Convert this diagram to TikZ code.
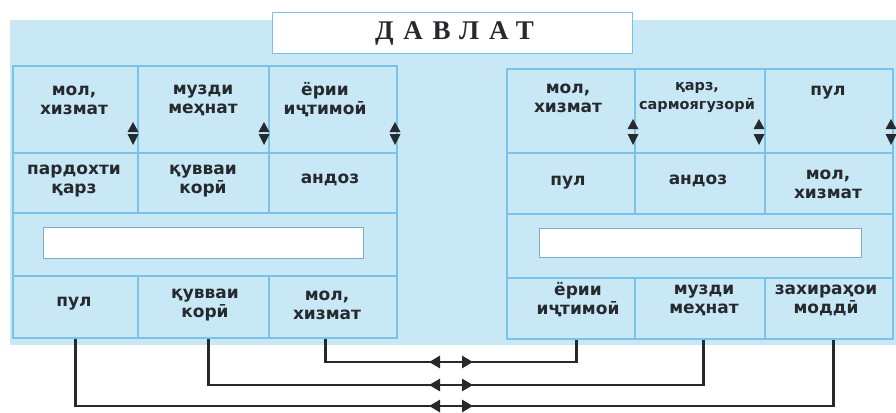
\documentclass[tikz,border=0pt]{standalone}
\usepackage{fontspec}
\setmainfont{DejaVu Sans}
\newfontfamily\cellfont{DejaVu Sans Bold}
\newfontfamily\titlefont[LetterSpace=36]{Liberation Serif Bold}
\usetikzlibrary{arrows.meta}
\definecolor{bgblue}{HTML}{C8E8F6}
\definecolor{cellline}{HTML}{7AC2EA}
\definecolor{ink}{HTML}{262A2E}
\begin{document}
\begin{tikzpicture}[x=1pt,y=-1pt,
  cell/.style={draw=cellline, line width=1.5pt, fill=bgblue, inner sep=0pt, anchor=north west},
  whitebox/.style={draw=cellline!70!gray, line width=0.6pt, fill=white, inner sep=0pt, anchor=north west},
  txt/.style={font=\cellfont\fontsize{17}{19}\selectfont, text=ink, align=center, inner sep=0pt},
  conn/.style={draw=ink, line width=2.8pt},
  tip/.style={draw=ink, line width=2.8pt, -{Triangle[length=11pt,width=12pt]}},
  updown/.style={fill=ink},
]
\useasboundingbox (0,0) rectangle (896,412);
% background
\fill[bgblue] (10,20) rectangle (896,345);
% title
\node[whitebox, draw=cellline, line width=1pt, minimum width=360pt, minimum height=41pt] (title) at (272,12) {};
\node[font=\titlefont\fontsize{27}{29}\selectfont, text=ink] (titletxt) at ([xshift=2pt]title.center) {ДАВЛАТ};

% ---------------- left panel ----------------
\node[cell, minimum width=125pt, minimum height=87pt] (a1) at (12,65) {};
\node[cell, minimum width=131pt, minimum height=87pt] (a2) at (137,65) {};
\node[cell, minimum width=128pt, minimum height=87pt] (a3) at (268,65) {};
\node[cell, minimum width=125pt, minimum height=60pt] (b1) at (12,152) {};
\node[cell, minimum width=131pt, minimum height=60pt] (b2) at (137,152) {};
\node[cell, minimum width=128pt, minimum height=60pt] (b3) at (268,152) {};
\node[cell, minimum width=384pt, minimum height=63pt] (c0) at (12,212) {};
\node[whitebox, minimum width=320pt, minimum height=31pt] (cw) at (43,227) {};
\node[cell, minimum width=125pt, minimum height=62pt] (d1) at (12,275) {};
\node[cell, minimum width=131pt, minimum height=62pt] (d2) at (137,275) {};
\node[cell, minimum width=128pt, minimum height=62pt] (d3) at (268,275) {};

\node[txt] (ta1) at (74,100) {мол,\\хизмат};
\node[txt] (ta2) at (203,100) {музди\\меҳнат};
\node[txt] (ta3) at (325,100) {ёрии\\иҷтимоӣ};
\node[txt] (tb1) at (74,181) {пардохти\\қарз};
\node[txt] (tb2) at (203,181) {қувваи\\корӣ};
\node[txt] (tb3) at (330,180) {андоз};
\node[txt] (td1) at (74,304) {пул};
\node[txt] (td2) at (205,305) {қувваи\\корӣ};
\node[txt] (td3) at (327,305) {мол,\\хизмат};

% ---------------- right panel ----------------
\node[cell, minimum width=128pt, minimum height=84pt] (e1) at (506,68) {};
\node[cell, minimum width=130pt, minimum height=84pt] (e2) at (634,68) {};
\node[cell, minimum width=128pt, minimum height=84pt] (e3) at (764,68) {};
\node[cell, minimum width=128pt, minimum height=61pt] (f1) at (506,152) {};
\node[cell, minimum width=130pt, minimum height=61pt] (f2) at (634,152) {};
\node[cell, minimum width=128pt, minimum height=61pt] (f3) at (764,152) {};
\node[cell, minimum width=386pt, minimum height=64pt] (g0) at (506,213) {};
\node[whitebox, minimum width=322pt, minimum height=29pt] (gw) at (539,228) {};
\node[cell, minimum width=128pt, minimum height=61pt] (h1) at (506,277) {};
\node[cell, minimum width=130pt, minimum height=61pt] (h2) at (634,277) {};
\node[cell, minimum width=128pt, minimum height=61pt] (h3) at (764,277) {};

\node[txt] (te1) at (568,98) {мол,\\хизмат};
\node[txt, font=\cellfont\fontsize{14.5}{19}\selectfont] (te2) at (697,98) {қарз,\\сармоягузорӣ};
\node[txt] (te3) at (828,93) {пул};
\node[txt] (tf1) at (568,183) {пул};
\node[txt] (tf2) at (698,181) {андоз};
\node[txt] (tf3) at (828,184) {мол,\\хизмат};
\node[txt] (th1) at (578,300) {ёрии\\иҷтимоӣ};
\node[txt] (th2) at (704,300) {музди\\меҳнат};
\node[txt] (th3) at (826,300) {захираҳои\\моддӣ};

% ---------------- up/down markers ----------------
\foreach \x/\yu/\yd in {133/122/134, 264/122/134, 395/122/134, 633/119/134, 759/119/134, 891/119/134}{
  \fill[updown] (\x,\yu) -- (\x+5.5,\yu+10) -- (\x-5.5,\yu+10) -- cycle;
  \fill[updown] (\x-5.5,\yd) -- (\x+5.5,\yd) -- (\x,\yd+11) -- cycle;
}

% ---------------- connectors ----------------
\coordinate (m1) at (450,362);
\coordinate (m2) at (450,385);
\coordinate (m3) at (450,406);
\coordinate (l1) at (429,362);
\coordinate (l2) at (429,385);
\coordinate (l3) at (429,406);
\coordinate (r1) at (473,362);
\coordinate (r2) at (473,385);
\coordinate (r3) at (473,406);

\draw[conn] ([xshift=-7pt]d3.south) |- (m1) -| ([xshift=6pt]h1.south);
\draw[conn] ([xshift=5pt]d2.south) |- (m2) -| ([xshift=4pt]h2.south);
\draw[conn] ([xshift=0pt]d1.south) |- (m3) -| ([xshift=5pt]h3.south);

\draw[tip] (m1) -- (l1);
\draw[tip] (m1) -- (r1);
\draw[tip] (m2) -- (l2);
\draw[tip] (m2) -- (r2);
\draw[tip] (m3) -- (l3);
\draw[tip] (m3) -- (r3);
\end{tikzpicture}
\end{document}
